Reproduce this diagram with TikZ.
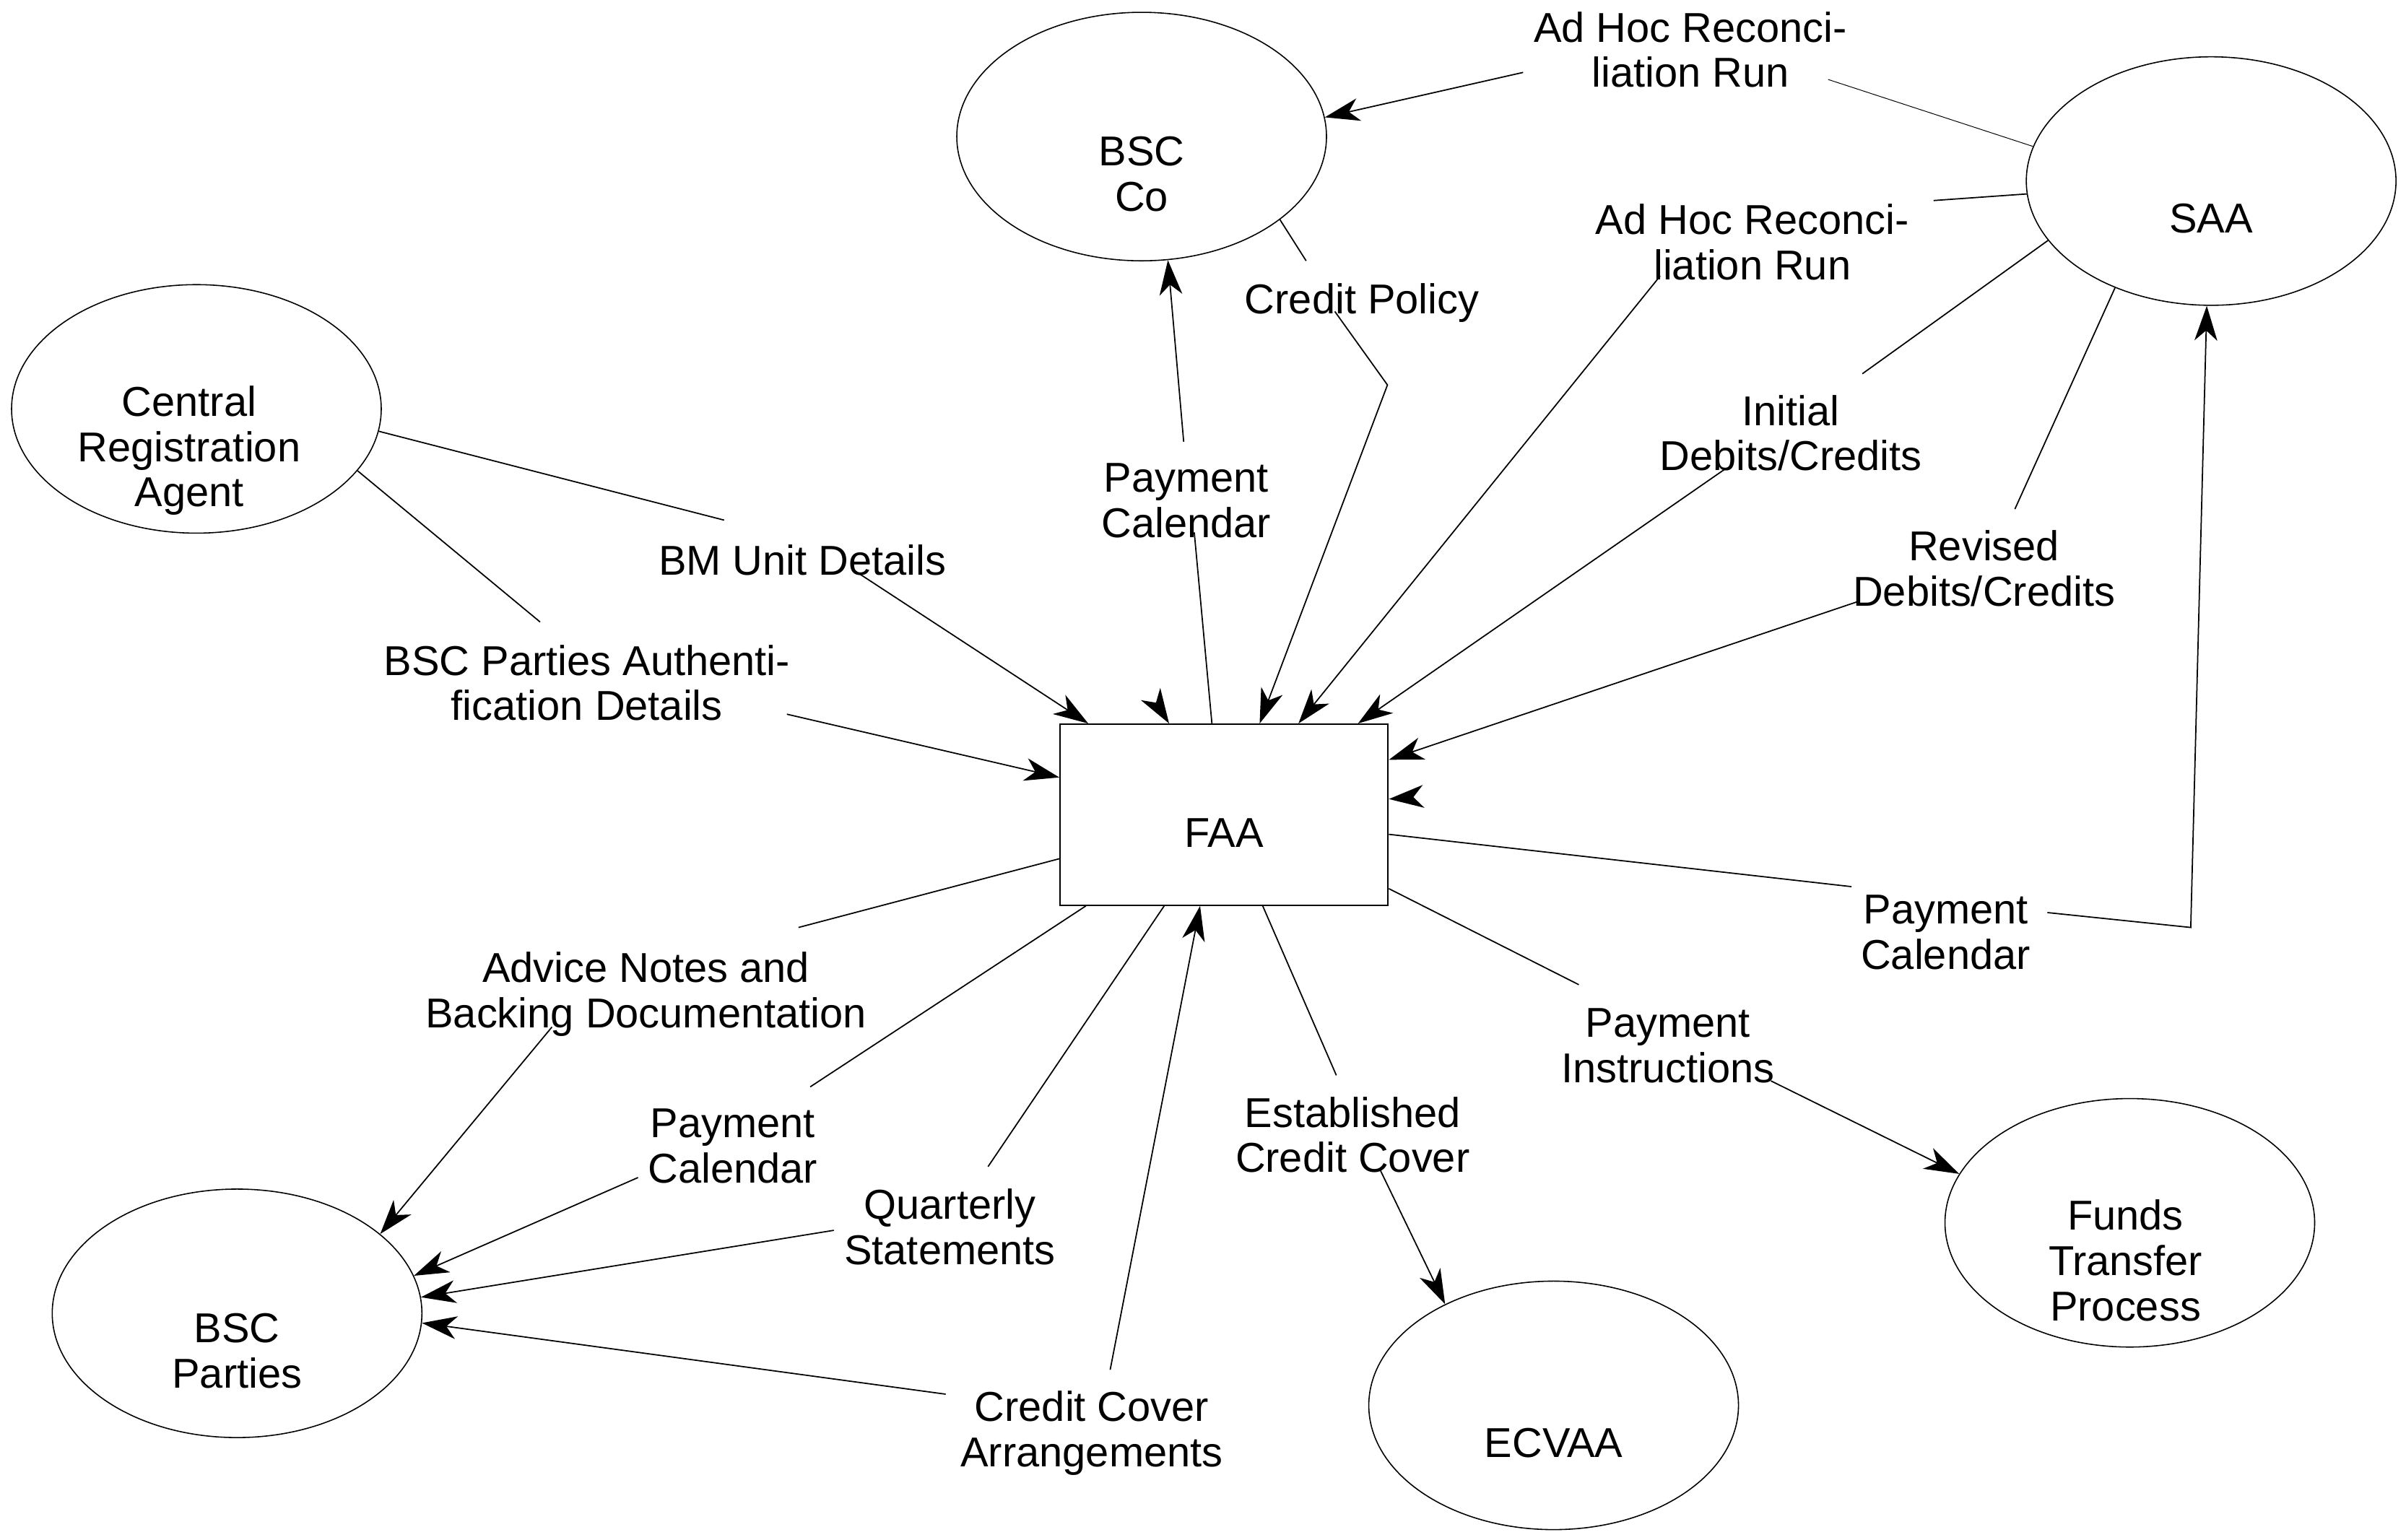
\documentclass[tikz,border=0pt]{standalone}
\usepackage{fontspec}
\setmainfont{Liberation Sans}
\usetikzlibrary{shapes.geometric,arrows.meta,calc}
\begin{document}
\begin{tikzpicture}[x=0.02125cm,y=-0.02125cm,
  txt/.style={align=center, inner sep=0pt, text depth=0pt, font=\fontsize{16.45pt}{17.85pt}\selectfont},
  ent/.style={draw, ellipse, line width=0.45pt, minimum width=5.121cm, minimum height=3.4425cm, inner sep=0pt},
  proc/.style={draw, rectangle, line width=0.55pt, minimum width=4.545cm, minimum height=2.5075cm, inner sep=0pt},
  flow/.style={line width=0.5pt},
  faint/.style={line width=0.28pt},
  arr/.style={flow, -{Stealth[length=13.7pt, width=9pt, inset=4pt]}},
]
\useasboundingbox (0,0) rectangle (1568,1003.3);

% ---------- entities ----------
\node[ent, label={[txt,yshift=-0.52cm]center:BSC\\Co}] (bscco) at (744,89) {};
\node[ent, label={[txt,yshift=-0.52cm]center:SAA}] (saa) at (1441,118) {};
\node[ent, label={[txt,yshift=-0.52cm,xshift=-0.1cm]center:Central\\Registration\\Agent}] (cra) at (128,266.5) {};
\node[ent, label={[txt,yshift=-0.52cm]center:BSC\\Parties}] (bscp) at (154.5,856) {};
\node[ent, label={[txt,yshift=-0.52cm]center:ECVAA}] (ecvaa) at (1012.5,916) {};
\node[ent, label={[txt,yshift=-0.52cm,xshift=-0.06cm]center:Funds\\Transfer\\Process}] (funds) at (1388,797) {};
\node[proc, label={[txt,yshift=-0.25cm]center:FAA}] (faa) at (797.75,531) {};

% ---------- points on FAA border ----------
\coordinate (fT709) at ($(faa.north west)!(709.2,0)!(faa.north east)$);
\coordinate (fT762) at ($(faa.north west)!(761.9,0)!(faa.north east)$);
\coordinate (fT790) at ($(faa.north west)!(789.8,0)!(faa.north east)$);
\coordinate (fT821) at ($(faa.north west)!(820.9,0)!(faa.north east)$);
\coordinate (fT846) at ($(faa.north west)!(846.2,0)!(faa.north east)$);
\coordinate (fT885) at ($(faa.north west)!(885,0)!(faa.north east)$);
\coordinate (fR495) at ($(faa.north east)!(0,495.2)!(faa.south east)$);
\coordinate (fR521) at ($(faa.north east)!(0,520.8)!(faa.south east)$);
\coordinate (fR544) at ($(faa.north east)!(0,543.8)!(faa.south east)$);
\coordinate (fR579) at ($(faa.north east)!(0,579.2)!(faa.south east)$);
\coordinate (fL507) at ($(faa.north west)!(0,506.7)!(faa.south west)$);
\coordinate (fL560) at ($(faa.north west)!(0,559.7)!(faa.south west)$);
\coordinate (fB708) at ($(faa.south west)!(707.7,0)!(faa.south east)$);
\coordinate (fB759) at ($(faa.south west)!(758.7,0)!(faa.south east)$);
\coordinate (fB782) at ($(faa.south west)!(782.1,0)!(faa.south east)$);
\coordinate (fB823) at ($(faa.south west)!(822.9,0)!(faa.south east)$);

% ---------- labels ----------
\node[txt] (lBM) at (523,364.8) {BM Unit Details};
\node[txt] (lAuth) at (382.5,444.9) {BSC Parties Authenti-\\fication Details};
\node[txt] (lPC1) at (773,326.3) {Payment\\Calendar};
\node[txt] (lCP) at (887.6,194.8) {Credit Policy};
\node[txt] (lAH1) at (1101.6,32.2) {Ad Hoc Reconci-\\liation Run};
\node[txt] (lAH2) at (1142,157.7) {Ad Hoc Reconci-\\liation Run};
\node[txt] (lIn) at (1167,282.2) {Initial\\Debits/Credits};
\node[txt] (lRv) at (1293,370.5) {Revised\\Debits/Credits};
\node[txt] (lPC2) at (1268,607.7) {Payment\\Calendar};
\node[txt] (lAd) at (421,645.1) {Advice Notes and\\Backing Documentation};
\node[txt] (lPC3) at (477.5,746.9) {Payment\\Calendar};
\node[txt] (lQS) at (619,799.7) {Quarterly\\Statements};
\node[txt] (lCC) at (711.5,931.3) {Credit Cover\\Arrangements};
\node[txt] (lEC) at (881.5,739.6) {Established\\Credit Cover};
\node[txt] (lPI) at (1087,681.3) {Payment\\Instructions};

% ---------- bend / gap points ----------
\coordinate (bm1) at (471.9,339.0);  \coordinate (bm2) at (556.1,371.4);
\coordinate (au1) at (352,405.4);    \coordinate (au2) at (512.8,465.5);
\coordinate (pc1) at (778.3,347);    \coordinate (pc2) at (771.4,287.9);
\coordinate (cp1) at (851.2,170);    \coordinate (cp2) at (869.9,203);  \coordinate (cp3) at (904.2,250.9);
\coordinate (ah1) at (1191.4,51.8);  \coordinate (ah2) at (992.6,47.2);
\coordinate (ah3) at (1260.1,130.7); \coordinate (ah4) at (1081.9,179.9);
\coordinate (in1) at (1213.7,243.6); \coordinate (in2) at (1124.8,305.3);
\coordinate (rv1) at (1313.1,331.8); \coordinate (rv2) at (1211.6,391.8);
\coordinate (pq1) at (1206.6,577.9); \coordinate (pq2) at (1334.3,594.8); \coordinate (pq3) at (1427.7,604.5);
\coordinate (ad1) at (520.4,604.5);  \coordinate (ad2) at (359.7,669.4);
\coordinate (pb1) at (528,708.4);    \coordinate (pb2) at (415.8,767.5);
\coordinate (qs1) at (643.9,760.4);  \coordinate (qs2) at (543.4,801.9);
\coordinate (cc1) at (616.3,908.7);  \coordinate (cc2) at (723.5,892.8);
\coordinate (ec1) at (870.9,700.9);  \coordinate (ec2) at (899.2,762);
\coordinate (pi1) at (1028.9,641.8); \coordinate (pi2) at (1154.1,704.5);

% ---------- connectors ----------
% CRA -> FAA
\draw[flow] (cra.-7.55) -- (bm1);
\draw[arr] (bm2) -- (fT709);
\draw[flow] (cra.-21.26) -- (au1);
\draw[arr] (au2) -- (fL507);
% FAA -> BSC Co
\draw[flow] (fT790) -- (pc1);
\draw[arr] (pc2) -- (bscco.-78.7);
% BSC Co -> FAA
\draw[flow] (bscco.-31.85) -- (cp1);
\draw[arr] (cp2) -- (cp3) -- (fT821);
% SAA -> BSC Co
\draw[faint] (saa.169) -- (ah1);
\draw[arr] (ah2) -- (bscco.6.55);
% SAA -> FAA
\draw[flow] (saa.-176.8) -- (ah3);
\draw[arr] (ah4) -- (fT846);
\draw[flow] (saa.-160.5) -- (in1);
\draw[arr] (in2) -- (fT885);
\draw[flow] (saa.-132.9) -- (rv1);
\draw[arr] (rv2) -- (fR495);
% stray arrowheads on FAA
\draw[arr] ([shift={(-8.0,-12.7)}]fT762) -- (fT762);
\draw[arr] ([shift={(15,-1.15)}]fR521) -- (fR521);
% FAA -> SAA
\draw[flow] (fR544) -- (pq1);
\draw[arr] (pq2) -- (pq3) -- (saa.-92.9);
% FAA -> BSC Parties
\draw[flow] (fL560) -- (ad1);
\draw[arr] (ad2) -- (bscp.29.9);
\draw[flow] (fB708) -- (pb1);
\draw[arr] (pb2) -- (bscp.12.66);
\draw[flow] (fB759) -- (qs1);
\draw[arr] (qs2) -- (bscp.5.33);
% Credit Cover Arrangements (both ways)
\draw[arr] (cc1) -- (bscp.-3.96);
\draw[arr] (cc2) -- (fB782);
% FAA -> ECVAA
\draw[flow] (fB823) -- (ec1);
\draw[arr] (ec2) -- (ecvaa.137.9);
% FAA -> Funds Transfer Process
\draw[flow] (fR579) -- (pi1);
\draw[arr] (pi2) -- (funds.164.1);
\end{tikzpicture}
\end{document}
